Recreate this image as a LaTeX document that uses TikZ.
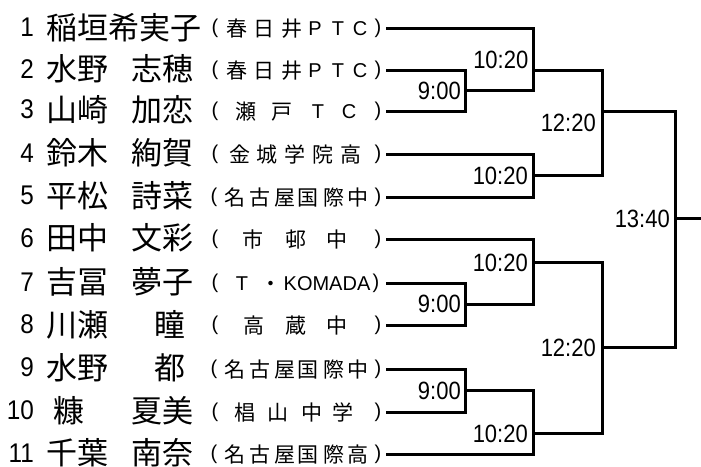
\documentclass[tikz,border=0pt]{standalone}
\usepackage{fontspec}
\newfontfamily\jpf{Noto Sans CJK JP}
\newfontfamily\numf[FakeStretch=0.9]{Liberation Sans}
\newfontfamily\timef[FakeStretch=0.88]{Liberation Sans}
\newfontfamily\latf{Liberation Sans}
\def\myLP{(}
\def\myRP{)}
\begin{document}
\begin{tikzpicture}[x=1pt,y=-1pt,
 nmst/.style={inner sep=0pt, font=\jpf\fontsize{31}{31}\selectfont, text height=27.3pt, text depth=3.7pt},
 numst/.style={inner sep=0pt, anchor=east, font=\numf\fontsize{27}{27}\selectfont, text height=19.3pt, text depth=0pt},
 kj/.style={inner sep=0pt, font=\jpf\fontsize{21}{21}\selectfont, text height=18.5pt, text depth=2.5pt},
 lt/.style={inner sep=0pt, font=\latf\fontsize{20}{20}\selectfont, text height=14.3pt, text depth=0pt},
 pa/.style={inner sep=0pt, font=\latf\fontsize{20}{20}\selectfont, text height=14.6pt, text depth=4.2pt},
 tmst/.style={inner sep=0pt, anchor=east, font=\timef\fontsize{25}{25}\selectfont, text height=17.9pt, text depth=0pt},
 br/.style={line width=3pt, line join=miter}
]
\useasboundingbox (0,0) rectangle (701,466);

% numbers
\foreach \i/\y in {1/28.7,2/70.3,3/111,4/154.3,5/197,6/239.3,7/283.3,8/325.7,9/369,10/412,11/454.3}
  \node[numst] (n\i) at (34,\y-1.8) {\i};

% names
\node[nmst,anchor=west] (sn1) at (46,27.2) {稲垣希実子};
\node[nmst,anchor=west] (sn2) at (46,68.8) {水野};
\node[nmst,anchor=east] (gn2) at (194,68.8) {志穂};
\node[nmst,anchor=west] (sn3) at (46,109.5) {山崎};
\node[nmst,anchor=east] (gn3) at (194,109.5) {加恋};
\node[nmst,anchor=west] (sn4) at (46,152.8) {鈴木};
\node[nmst,anchor=east] (gn4) at (194,152.8) {絢賀};
\node[nmst,anchor=west] (sn5) at (46,195.5) {平松};
\node[nmst,anchor=east] (gn5) at (194,195.5) {詩菜};
\node[nmst,anchor=west] (sn6) at (46,237.8) {田中};
\node[nmst,anchor=east] (gn6) at (194,237.8) {文彩};
\node[nmst,anchor=west] (sn7) at (46,281.8) {吉冨};
\node[nmst,anchor=east] (gn7) at (194,281.8) {夢子};
\node[nmst,anchor=west] (sn8) at (46,324.2) {川瀬};
\node[nmst] (gn8) at (170,324.2) {瞳};
\node[nmst,anchor=west] (sn9) at (46,367.5) {水野};
\node[nmst] (gn9) at (170,367.5) {都};
\node[nmst] (sn10) at (69,410.5) {糠};
\node[nmst,anchor=east] (gn10) at (194,410.5) {夏美};
\node[nmst,anchor=west] (sn11) at (46,452.8) {千葉};
\node[nmst,anchor=east] (gn11) at (194,452.8) {南奈};

% affiliations
\foreach \x/\s/\c [count=\k] in {215/pa/\myLP,237/kj/春,264/kj/日,292/kj/井,315/lt/P,338/lt/T,360/lt/C,378/pa/\myRP}
  \node[\s] (a1-\k) at (\x,28.7) {\c};
\foreach \x/\s/\c [count=\k] in {215/pa/\myLP,237/kj/春,264/kj/日,292/kj/井,315/lt/P,338/lt/T,360/lt/C,378/pa/\myRP}
  \node[\s] (a2-\k) at (\x,70.3) {\c};
\foreach \x/\s/\c [count=\k] in {215/pa/\myLP,246/kj/瀬,282/kj/戸,318/lt/T,349/lt/C,378/pa/\myRP}
  \node[\s] (a3-\k) at (\x,111) {\c};
\foreach \x/\s/\c [count=\k] in {215/pa/\myLP,240/kj/金,267/kj/城,295/kj/学,323/kj/院,351/kj/高,378/pa/\myRP}
  \node[\s] (a4-\k) at (\x,154.3) {\c};
\foreach \x/\s/\c [count=\k] in {214/pa/\myLP,235/kj/名,260/kj/古,285/kj/屋,308/kj/国,334/kj/際,358/kj/中,378/pa/\myRP}
  \node[\s] (a5-\k) at (\x,197) {\c};
\foreach \x/\s/\c [count=\k] in {215/pa/\myLP,253/kj/市,296/kj/邨,337/kj/中,378/pa/\myRP}
  \node[\s] (a6-\k) at (\x,239.3) {\c};
\foreach \x/\s/\c [count=\k] in {215/pa/\myLP,242/lt/T,271/kj/・,327/lt/KOMADA,376/pa/\myRP}
  \node[\s] (a7-\k) at (\x,283.3) {\c};
\foreach \x/\s/\c [count=\k] in {215/pa/\myLP,254/kj/高,296/kj/蔵,337/kj/中,378/pa/\myRP}
  \node[\s] (a8-\k) at (\x,325.7) {\c};
\foreach \x/\s/\c [count=\k] in {214/pa/\myLP,235/kj/名,260/kj/古,285/kj/屋,308/kj/国,334/kj/際,358/kj/中,378/pa/\myRP}
  \node[\s] (a9-\k) at (\x,369) {\c};
\foreach \x/\s/\c [count=\k] in {215/pa/\myLP,245/kj/椙,278/kj/山,312/kj/中,343/kj/学,378/pa/\myRP}
  \node[\s] (a10-\k) at (\x,412) {\c};
\foreach \x/\s/\c [count=\k] in {214/pa/\myLP,235/kj/名,260/kj/古,285/kj/屋,308/kj/国,334/kj/際,358/kj/高,378/pa/\myRP}
  \node[\s] (a11-\k) at (\x,454.3) {\c};

% bracket coordinates
\foreach \i/\y in {1/28.7,2/70.3,3/111,4/154.3,5/197,6/239.3,7/283.3,8/325.7,9/369,10/412,11/454.3}
  \coordinate (s\i) at (386,\y);
\coordinate (k23) at (465.7,90.65);
\coordinate (b1) at (533.3,90.65);
\coordinate (o1) at (533.3,70.3);
\coordinate (k45) at (533.3,175.7);
\coordinate (c12) at (602.3,111);
\coordinate (fin) at (675.7,218.3);
\coordinate (endp) at (701,218.3);
\coordinate (k78) at (465.7,304.5);
\coordinate (b6) at (533.3,304.5);
\coordinate (o6) at (533.3,262.3);
\coordinate (k910) at (465.7,390.5);
\coordinate (b11) at (533.3,390.5);
\coordinate (o11) at (533.3,433.3);
\coordinate (c12b) at (602.3,347.3);

\draw[br] (s1) -| (b1) -- (k23);
\draw[br] (s2) -| (k23) |- (s3);
\draw[br] (s4) -| (k45) |- (s5);
\draw[br] (o1) -| (c12) |- (k45);
\draw[br] (c12) -| (fin) |- (c12b);
\draw[br] (fin) -- (endp);
\draw[br] (s6) -| (b6) -- (k78);
\draw[br] (s7) -| (k78) |- (s8);
\draw[br] (s9) -| (k910) |- (s10);
\draw[br] (s11) -| (b11) -- (k910);
\draw[br] (o6) -| (c12b) |- (o11);

% times
\node[tmst] (t1) at (528.5,59.2) {10:20};
\node[tmst] (t2) at (461,91) {9:00};
\node[tmst] (t3) at (596,122.5) {12:20};
\node[tmst] (t4) at (528,176) {10:20};
\node[tmst] (t5) at (670,219) {13:40};
\node[tmst] (t6) at (528,262.5) {10:20};
\node[tmst] (t7) at (461,304) {9:00};
\node[tmst] (t8) at (596,347.5) {12:20};
\node[tmst] (t9) at (461,391) {9:00};
\node[tmst] (t10) at (528,434) {10:20};
\end{tikzpicture}
\end{document}
